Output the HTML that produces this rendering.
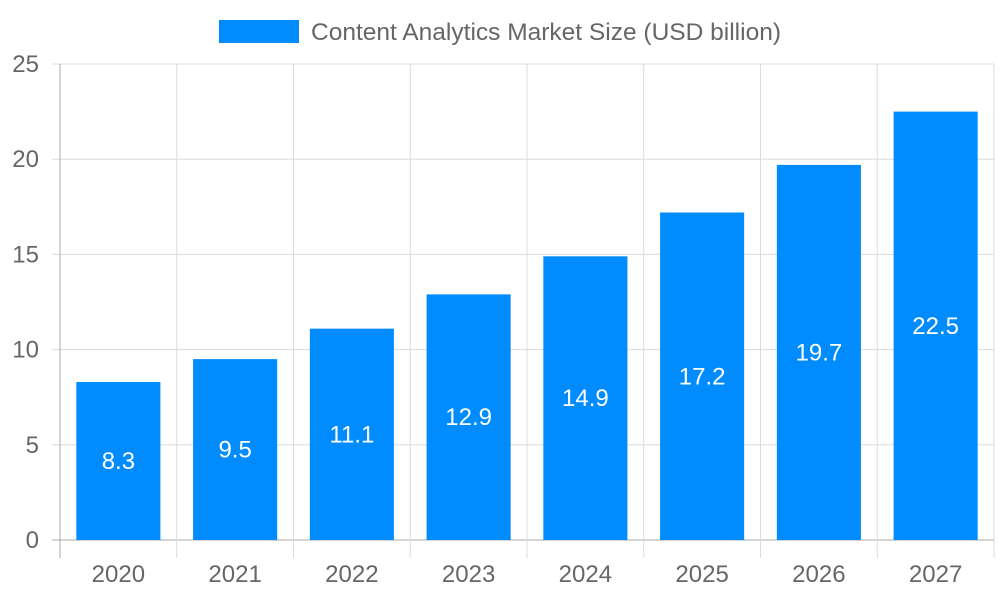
<!DOCTYPE html>
<html><head><meta charset="utf-8"><style>
html,body{margin:0;padding:0;background:#fff;}
svg{display:block;font-family:"Liberation Sans",sans-serif;}
</style></head><body>
<svg id="chart" width="1000" height="600">
<g id="grid"></g>
<g id="bars"></g>
<g id="axes"></g>
<g>
<rect x="219" y="20" width="80" height="23" fill="#008cff"/>
<text x="311" y="40" font-size="24" fill="#666" textLength="470" lengthAdjust="spacingAndGlyphs">Content Analytics Market Size (USD billion)</text>
</g>
</svg>
<script>
const categories=["2020","2021","2022","2023","2024","2025","2026","2027"];
const values=[8.3,9.5,11.1,12.9,14.9,17.2,19.7,22.5];
const yTicks=[0,5,10,15,20,25];
const NS="http://www.w3.org/2000/svg";
const L=60,R=994,T=64,B=540,yMax=25;
const bw=(R-L)/categories.length;
const y=v=>B-(v/yMax)*(B-T);
const x=i=>L+i*bw;
function mk(p,tag,a,txt){const e=document.createElementNS(NS,tag);for(const k in a)e.setAttribute(k,a[k]);if(txt!==undefined)e.textContent=txt;p.appendChild(e);return e;}
const grid=document.getElementById('grid'),bars=document.getElementById('bars'),axes=document.getElementById('axes');
yTicks.forEach(t=>{
 const l=mk(grid,'line',{x1:L-8,x2:R,y1:y(t),y2:y(t),stroke:t===0?'#aaa':'#dcdcdc','stroke-width':1});
 
 
 const tx=mk(axes,'text',{x:L-21,y:y(t)+8,'font-size':24,fill:'#666','text-anchor':'end'},String(t));
 
 
});
for(let i=0;i<=categories.length;i++){
 const l=mk(grid,'line',{x1:x(i),x2:x(i),y1:T,y2:B+18,stroke:i===0?'#aaa':'#dcdcdc','stroke-width':1});
 
 
}
categories.forEach((c,i)=>{
 const w=bw*0.72,cx=x(i)+bw/2;
 const r=mk(bars,'rect',{x:cx-w/2,y:y(values[i]),width:w,height:B-y(values[i]),fill:'#008cff'});
 
 
 const v=mk(bars,'text',{x:cx,y:(y(values[i])+B)/2+8,'font-size':24,fill:'#fff','text-anchor':'middle'},String(values[i]));
 
 
 const t=mk(axes,'text',{x:cx,y:582,'font-size':24,fill:'#666','text-anchor':'middle'},c);
 
 
});
</script>
</body></html>
